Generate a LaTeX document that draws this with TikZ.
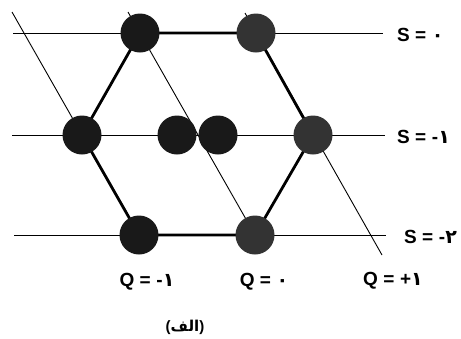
\documentclass[tikz,border=0pt]{standalone}
\usepackage{fontspec}
\setmainfont{Liberation Sans}
\newfontfamily\arabicfont[Script=Arabic]{DejaVu Sans}
\TeXXeTstate=1
\newcommand{\fa}[1]{{\arabicfont #1}}
\newcommand{\eq}{\hspace{0.28em}=\hspace{0.3em}}

\begin{document}
\begin{tikzpicture}[x=1pt,y=-1pt]
	\tikzset{ball/.style={circle,minimum size=39pt,inner sep=0pt}}
	\tikzset{dark/.style={ball,fill=black!90}}
	\tikzset{grey/.style={ball,fill=black!80}}
	\tikzset{axis/.style={line width=0.9pt}}
	\tikzset{bond/.style={line width=2.8pt}}
	\tikzset{lab/.style={font=\fontsize{19}{21}\selectfont\bfseries,inner sep=0pt}}
	\useasboundingbox (0,0) rectangle (461,338);
	% particle positions
	\coordinate (tl) at (140,33);
	\coordinate (tr) at (256,33);
	\coordinate (ml) at (82,135);
	\coordinate (mc) at (177,135);
	\coordinate (mc2) at (218,135);
	\coordinate (mr) at (313,135);
	\coordinate (bl) at (139,235);
	\coordinate (br) at (255,235);
	% ends of the thin lines
	\coordinate (s0a) at (13,33);   \coordinate (s0b) at (383,33);
	\coordinate (s1a) at (12,135);  \coordinate (s1b) at (385,135);
	\coordinate (s2a) at (14,235);  \coordinate (s2b) at (386,235);
	\coordinate (q1a) at (12,12);
	\coordinate (q0a) at (128,12);
	\coordinate (qpa) at (245,13);  \coordinate (qpb) at (382,255);
	% S lines and Q lines
	\draw[axis] (s0a) -- (s0b);
	\draw[axis] (s1a) -- (s1b);
	\draw[axis] (s2a) -- (s2b);
	\draw[axis] (q1a) -- (bl);
	\draw[axis] (q0a) -- (br);
	\draw[axis] (qpa) -- (qpb);
	% hexagon
	\draw[bond] (tl) -- (tr) -- (mr) -- (br) -- (bl) -- (ml) -- cycle;
	% particles
	\node[dark] (p-tl) at (tl) {};
	\node[grey] (p-tr) at (tr) {};
	\node[dark] (p-ml) at (ml) {};
	\node[dark] (p-mc) at (mc) {};
	\node[dark] (p-mc2) at (mc2) {};
	\node[grey] (p-mr) at (mr) {};
	\node[dark] (p-bl) at (bl) {};
	\node[grey] (p-br) at (br) {};
	% labels
	\node[lab,anchor=west] (l-s0) at (397,35) {S\eq\fa{۰}};
	\node[lab,anchor=west] (l-s1) at (397,137) {S\eq-\fa{۱}};
	\node[lab,anchor=west] (l-s2) at (404,237) {S\eq-\fa{۲}};
	\node[lab] (l-q1) at (147,282) {Q\eq-\fa{۱}};
	\node[lab] (l-q0) at (264,282) {Q\eq\fa{۰}};
	\node[lab] (l-qp) at (393,281) {Q\eq+\fa{۱}};
	\node[lab,font=\fontsize{15}{18}\selectfont\bfseries] (cap) at (185,327) {(\fa{\beginR الف\endR})};
\end{tikzpicture}
\end{document}
